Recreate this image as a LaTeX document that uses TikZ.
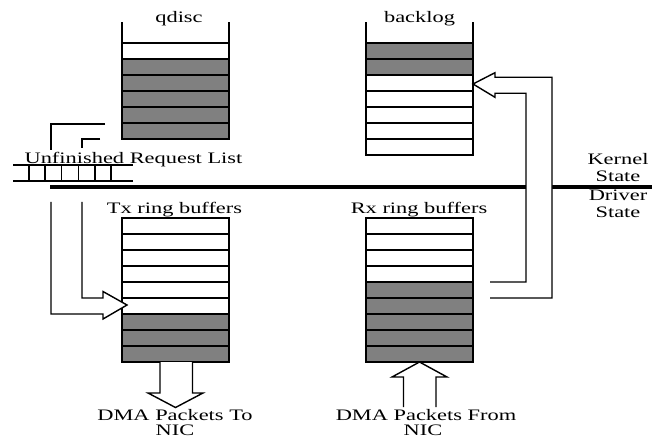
\documentclass[tikz,border=0pt]{standalone}
\usepackage{fontspec}
\setmainfont[FakeStretch=1.4]{Liberation Serif}
\usetikzlibrary{calc}
\definecolor{cellgray}{gray}{0.5}
\begin{document}
\begin{tikzpicture}[x=1pt,y=-1pt,
  cell/.style={draw, line width=1.4pt, minimum width=107pt, minimum height=16pt,
               inner sep=0pt, outer sep=0pt, fill=white},
  full/.style={cell, fill=cellgray},
  wall/.style={line width=1.4pt},
  blockarrow/.style={line width=1.4pt, fill=white, line join=miter},
  lbl/.style={font=\fontsize{16}{16}\selectfont, inner sep=0pt, anchor=base},
  divider/.style={line width=3.2pt}]
\useasboundingbox (0,0) rectangle (652,438);

% kernel / driver boundary
\coordinate (divL) at (50,187);
\coordinate (divR) at (652,187);
\draw[divider] (divL) -- (divR);
\node[lbl] (kern1) at (618,165) {Kernel};
\node[lbl] (kern2) at (618,181.5) {State};
\node[lbl] (drv1) at (618,200.5) {Driver};
\node[lbl] (drv2) at (618,217) {State};

% qdisc queue
\foreach \i/\s in {1/cell,2/full,3/full,4/full,5/full,6/full}
  \node[\s] (q\i) at (175.5,{35+16*\i}) {};
\draw[wall] (q1.north west) -- ++(0,-21);
\draw[wall] (q1.north east) -- ++(0,-21);
\node[lbl] (qlab) at (179,23) {qdisc};

% backlog queue
\foreach \i/\s in {1/full,2/full,3/cell,4/cell,5/cell,6/cell,7/cell}
  \node[\s] (b\i) at (419.5,{35+16*\i}) {};
\draw[wall] (b1.north west) -- ++(0,-21);
\draw[wall] (b1.north east) -- ++(0,-21);
\node[lbl] (blab) at (419.5,23) {backlog};

% Tx ring
\foreach \i/\s in {1/cell,2/cell,3/cell,4/cell,5/cell,6/cell,7/full,8/full,9/full}
  \node[\s] (t\i) at (175.5,{210+16*\i}) {};
\node[lbl] (tlab) at (174.5,214) {Tx ring buffers};

% Rx ring
\foreach \i/\s in {1/cell,2/cell,3/cell,4/cell,5/full,6/full,7/full,8/full,9/full}
  \node[\s] (r\i) at (419.5,{210+16*\i}) {};
\node[lbl] (rlab) at (419,214) {Rx ring buffers};

% unfinished request list
\node[lbl] (url) at (133.5,163.5) {Unfinished Request List};
\coordinate (gridTL) at (13,165);
\coordinate (gridBL) at (13,181);
\draw[wall] (gridTL) -- ++(120,0);
\draw[wall] (gridBL) -- ++(120,0);
\foreach \x in {29,45,61.7,78.3,95,111}
  \draw[wall] (\x,165) -- (\x,181);

% request list feeding the Tx ring
\draw[wall] (105,124) -- (51,124) -- (51,150);
\draw[wall] (100,139) -- (82,139) -- (82,148);
\coordinate (txTip) at ($(t6.west)+(5,-1)$);
\draw[blockarrow] (51,202) -- (51,314) -- (103,314) -- (103,319)
  -- (txTip) -- (103,291.5) -- (103,298) -- (82,298) -- (82,202);

% Tx ring to NIC
\draw[blockarrow] (160,362) -- (160,393) -- (148,393) -- (175.5,407.5)
  -- (203,393) -- (192.5,393) -- (192.5,362);
\node[lbl] (dmaTo1) at (175,420) {DMA Packets To};
\node[lbl] (dmaTo2) at (175,435) {NIC};

% NIC to Rx ring
\draw[blockarrow] (403.5,407) -- (403.5,377) -- (392,377) -- (r9.south)
  -- (447,377) -- (436,377) -- (436,407);
\node[lbl] (dmaFrom1) at (426,420) {DMA Packets From};
\node[lbl] (dmaFrom2) at (423,435) {NIC};

% Rx ring up to backlog
\coordinate (bkTip) at ($(b3.east)+(0,1)$);
\draw[blockarrow] (490,282) -- (526,282) -- (526,93.3) -- (495,93.3) -- (495,97.3)
  -- (bkTip) -- (495,72.7) -- (495,77.3) -- (552,77.3) -- (552,298) -- (490,298);
\end{tikzpicture}
\end{document}
